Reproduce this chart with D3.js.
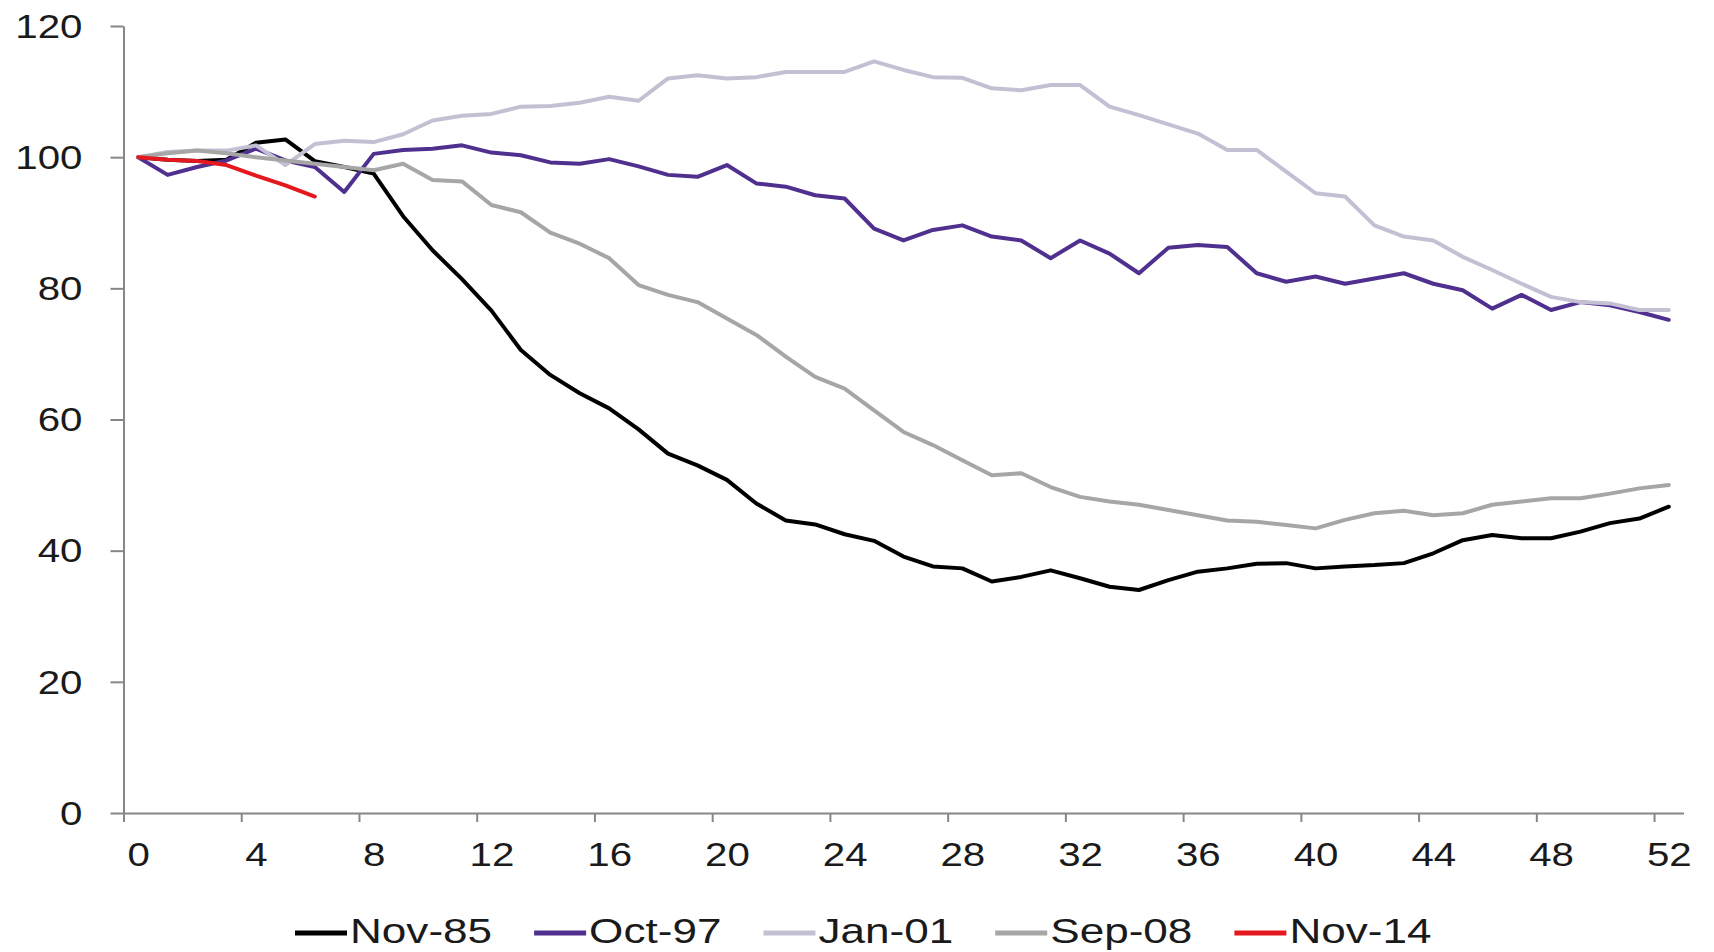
<!DOCTYPE html>
<html><head><meta charset="utf-8">
<script src="https://cdn.jsdelivr.net/npm/d3@7"></script>
<style>
body{margin:0;background:#fff}
svg{display:block;background:#fff}
text{font-family:"Liberation Sans",Arial,sans-serif;fill:#1a1a1a}
</style>
</head><body>
<svg id="chart" width="1714" height="952"></svg>
<script>
// ---- data ----
const weeks = d3.range(0, 53);
const xTickLabels = d3.range(0, 53, 4);
const yTicks = [0, 20, 40, 60, 80, 100, 120];
const seriesNames = ["Nov-85", "Oct-97", "Jan-01", "Sep-08", "Nov-14"];
const nov85 = [100, 99.6, 99.4, 99.6, 102.2, 102.7, 99.4, 98.5, 97.5, 91.0,
  85.8, 81.4, 76.6, 70.6, 66.8, 64.0, 61.7, 58.5, 54.8, 53.0,
  50.8, 47.2, 44.6, 44.0, 42.5, 41.5, 39.1, 37.6, 37.3, 35.3,
  36.0, 37.0, 35.8, 34.5, 34.0, 35.5, 36.8, 37.3, 38.0, 38.1,
  37.3, 37.6, 37.8, 38.1, 39.6, 41.6, 42.4, 41.9, 41.9, 42.9,
  44.2, 44.9, 46.7];
const oct97 = [100, 97.3, 98.5, 99.5, 101.3, 99.5, 98.5, 94.7, 100.5, 101.1,
  101.3, 101.8, 100.7, 100.3, 99.2, 99.0, 99.7, 98.6, 97.3, 97.0,
  98.8, 96.0, 95.5, 94.2, 93.7, 89.1, 87.3, 88.9, 89.6, 87.9,
  87.3, 84.6, 87.3, 85.3, 82.3, 86.2, 86.6, 86.3, 82.3, 81.0,
  81.8, 80.7, 81.5, 82.3, 80.7, 79.7, 76.9, 79.0, 76.7, 77.9,
  77.4, 76.4, 75.2];
const jan01 = [100, 100.8, 101, 101, 101.8, 98.8, 102, 102.5, 102.3, 103.5,
  105.6, 106.3, 106.6, 107.7, 107.8, 108.3, 109.2, 108.6, 112.0, 112.5,
  112.0, 112.2, 113.0, 113.0, 113.0, 114.6, 113.3, 112.2, 112.1, 110.5,
  110.2, 111.0, 111.0, 107.7, 106.4, 105.0, 103.6, 101.1, 101.1, 97.8,
  94.5, 94.0, 89.6, 87.9, 87.3, 84.8, 82.8, 80.7, 78.7, 77.9,
  77.7, 76.7, 76.7];
const sep08 = [100, 100.6, 101, 100.6, 100, 99.5, 99, 98.5, 98, 99,
  96.5, 96.3, 92.7, 91.6, 88.5, 86.8, 84.6, 80.5, 79.0, 77.9,
  75.4, 72.9, 69.6, 66.5, 64.7, 61.4, 58.1, 56.1, 53.8, 51.5,
  51.8, 49.7, 48.2, 47.5, 47.0, 46.2, 45.4, 44.6, 44.4, 43.9,
  43.4, 44.7, 45.7, 46.1, 45.4, 45.7, 47.0, 47.5, 48.0, 48.0,
  48.7, 49.5, 50.0];
const nov14 = [100, 99.6, 99.4, 98.8, 97.2, 95.7, 94.0];
const seriesValues = [nov85, oct97, jan01, sep08, nov14];
const seriesColors = ["#000000", "#50308f", "#c4c0d4", "#a6a6a6", "#e3191f"];

// ---- layout ----
const svg = d3.select("#chart");
const plotLeft = 123.5, plotRight = 1683.5, plotTop = 26, plotBottom = 813;
const axisColor = "#878787";
const x = d3.scaleLinear().domain([0, weeks.length]).range([plotLeft, plotRight]);
const y = d3.scaleLinear().domain([0, 120]).range([plotBottom, plotTop]);

// y axis
const gy = svg.append("g").attr("transform", `translate(${plotLeft},0)`)
  .call(d3.axisLeft(y).tickValues(yTicks).tickSize(13).tickSizeOuter(0));
gy.attr("font-size", 33).attr("font-family", null);
gy.select(".domain").attr("stroke", axisColor).attr("stroke-width", 2);
gy.selectAll(".tick line").attr("stroke", axisColor).attr("stroke-width", 2);
gy.selectAll(".tick text").attr("x", 0).attr("dy", "0.34em")
  .attr("transform", "translate(-41,0) scale(1.22,1)").attr("fill", "#1a1a1a");

// x axis (tick marks at category boundaries)
const gx = svg.append("g").attr("transform", `translate(0,${plotBottom})`)
  .call(d3.axisBottom(x).tickValues(xTickLabels).tickSize(9).tickSizeOuter(0).tickFormat(""));
gx.select(".domain").attr("stroke", axisColor).attr("stroke-width", 2);
gx.selectAll(".tick line").attr("stroke", axisColor).attr("stroke-width", 2);

// x labels centred in categories
const gxl = svg.append("g").attr("transform", `translate(0,${plotBottom})`)
  .call(d3.axisBottom(x).tickValues(xTickLabels.map(d => d + 0.5)).tickSize(0).tickFormat(d => d - 0.5));
gxl.attr("font-size", 33).attr("font-family", null);
gxl.select(".domain").remove();
gxl.selectAll(".tick text").attr("y", 30).attr("dy", "0.71em")
  .attr("transform", "scale(1.22,1)").attr("fill", "#1a1a1a");

// lines
const line = d3.line().x((d, i) => x(i + 0.5)).y(d => y(d));
seriesValues.forEach((vals, k) => {
  svg.append("path").datum(vals)
    .attr("d", line)
    .attr("fill", "none")
    .attr("stroke", seriesColors[k])
    .attr("stroke-width", 4)
    .attr("stroke-linejoin", "round")
    .attr("stroke-linecap", "round");
});

// legend
let lx = 295;
seriesNames.forEach((name, k) => {
  const g = svg.append("g");
  g.append("line").attr("x1", lx).attr("x2", lx + 52).attr("y1", 933).attr("y2", 933)
    .attr("stroke", seriesColors[k]).attr("stroke-width", 5);
  const t = g.append("text").attr("transform", `translate(${lx + 55},943) scale(1.26,1)`)
    .attr("font-size", 35).text(name);
  lx += 55 + t.node().getComputedTextLength() * 1.26 + 42;
});
</script>
</body></html>
